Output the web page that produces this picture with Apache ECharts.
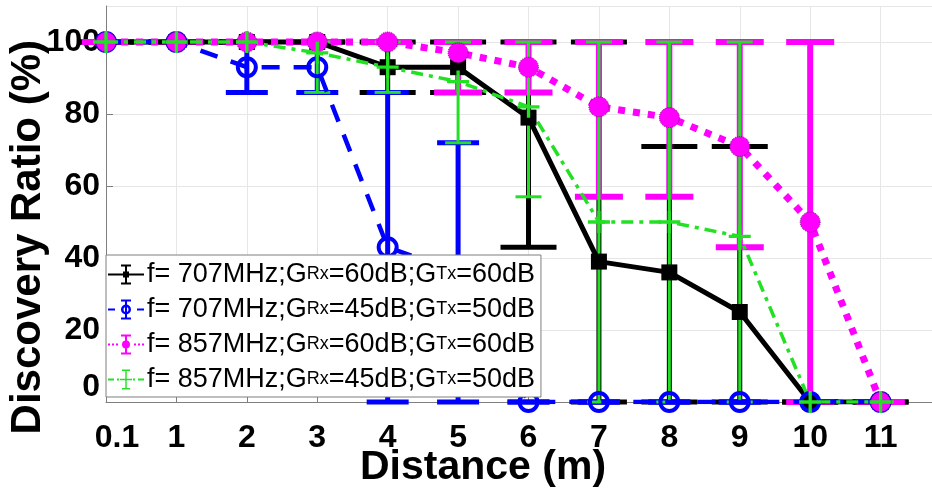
<!DOCTYPE html>
<html>
<head>
<meta charset="utf-8">
<script src="https://cdn.jsdelivr.net/npm/echarts@6/dist/echarts.min.js"></script>
<style>
  html, body { margin: 0; padding: 0; background: #fff; }
  #main { width: 932px; height: 497px; }
</style>
</head>
<body>
<div id="main"></div>
<script>
// distance labels (equally spaced)
var xLabels = ['0.1', '1', '2', '3', '4', '5', '6', '7', '8', '9', '10', '11'];

var seriesNames = [
    'f= 707MHz;GRx=60dB;GTx=60dB',
    'f= 707MHz;GRx=45dB;GTx=50dB',
    'f= 857MHz;GRx=60dB;GTx=60dB',
    'f= 857MHz;GRx=45dB;GTx=50dB'
];
var seriesColors = ['#000000', '#0000ff', '#ff00ff', '#22e022'];

// mean discovery ratio (%)
var black_mean = [100, 100, 100, 100, 93, 93, 79, 39, 36, 25, 0, 0];
var blue_mean  = [100, 100, 93, 93, 43, 36, 0, 0, 0, 0, 0, 0];
var mag_mean   = [100, 100, 100, 100, 100, 97, 93, 82, 79, 71, 50, 0];
var green_mean = [100, 100, 100, 97, 93, 89, 82, 50, 50, 46, 0, 0];

// error bar ends
var black_lo = [100, 100, 100, 100, 86, 86, 43, 0, 0, 0, 0, 0];
var black_hi = [100, 100, 100, 100, 100, 100, 100, 100, 71, 71, 0, 0];
var blue_lo  = [100, 100, 86, 86, 0, 0, 0, 0, 0, 0, 0, 0];
var blue_hi  = [100, 100, 100, 100, 86, 72, 0, 0, 0, 0, 0, 0];
var mag_lo   = [100, 100, 100, 100, 100, 86, 86, 57, 57, 43, 0, 0];
var mag_hi   = [100, 100, 100, 100, 100, 100, 100, 100, 100, 100, 100, 0];
var green_lo = [100, 100, 100, 86, 86, 72, 57, 0, 0, 0, 0, 0];
var green_hi = [100, 100, 100, 100, 100, 100, 100, 100, 100, 100, 0, 0];

var myChart = echarts.init(document.getElementById('main'));

function pts(arr) {
    return arr.map(function (v, i) { return [i, v]; });
}
function errData(lo, hi) {
    return lo.map(function (v, i) { return [i, v, hi[i]]; });
}
// error bar: vertical line + two caps
function errSeries(lo, hi, color, lw, capHalf) {
    return {
        type: 'custom',
        silent: true,
        data: errData(lo, hi),
        renderItem: function (params, api) {
            var x = api.value(0);
            var pLo = api.coord([x, api.value(1)]);
            var pHi = api.coord([x, api.value(2)]);
            var st = { stroke: color, lineWidth: lw };
            return {
                type: 'group',
                children: [
                    { type: 'line', shape: { x1: pLo[0], y1: pLo[1], x2: pHi[0], y2: pHi[1] }, style: st },
                    { type: 'line', shape: { x1: pLo[0] - capHalf, y1: pLo[1], x2: pLo[0] + capHalf, y2: pLo[1] }, style: st },
                    { type: 'line', shape: { x1: pHi[0] - capHalf, y1: pHi[1], x2: pHi[0] + capHalf, y2: pHi[1] }, style: st }
                ]
            };
        },
        z: 2
    };
}

var plusPath = 'path://M-1.5,-10 h3 v8.5 h8.5 v3 h-8.5 v8.5 h-3 v-8.5 h-8.5 v-3 h8.5 z';

// legend glyphs: line piece + small error bar + marker (36 x 20 box)
var ibeam = 'M17,0H19V20H17Z M13,0H23V2H13Z M13,18H23V20H13Z ';
var legendIcons = [
    'path://M0,9H36V11H0Z ' + ibeam + 'M15,7H21V13H15Z',
    'path://M0,9H7V11H0Z M29,9H36V11H29Z ' + ibeam +
        'M13,10 A5,5 0 1,1 23,10 A5,5 0 1,1 13,10 Z M15.5,10 A2.5,2.5 0 1,0 20.5,10 A2.5,2.5 0 1,0 15.5,10 Z',
    'path://M0,9H2V11H0Z M4,9H6V11H4Z M8,9H10V11H8Z M26,9H28V11H26Z M30,9H32V11H30Z M34,9H36V11H34Z ' + ibeam +
        'M14,10 A4,4 0 1,1 22,10 A4,4 0 1,1 14,10 Z',
    'path://M0,9H6V11H0Z M9,9H11V11H9Z M25,9H27V11H25Z M30,9H36V11H30Z ' +
        'M17.3,0H18.7V20H17.3Z M14,0H22V1.5H14Z M14,18.5H22V20H14Z M12,9.3H24V10.7H12Z'
];

var option = {
    animation: false,
    grid: { left: 106, top: 6, right: 0, bottom: 95 },
    xAxis: {
        type: 'value',
        min: 0,
        max: 11.73,
        interval: 1,
        axisLine: { show: true, onZero: false, lineStyle: { color: '#7f7f7f', width: 1 } },
        axisTick: { show: true, inside: true, length: 7, lineStyle: { color: '#7f7f7f' } },
        splitLine: { show: true, lineStyle: { color: '#e6e6e6', width: 1 } },
        axisLabel: {
            showMaxLabel: false,
            margin: 20,
            color: '#000',
            fontFamily: 'Liberation Sans, Arial, sans-serif',
            fontWeight: 'bold',
            fontSize: 32,
            formatter: function (v) {
                var lab = xLabels[Math.round(v)];
                if (lab === undefined) return '';
                return lab === '0.1' ? '{a|0.1}' : lab;
            },
            rich: { a: { fontFamily: 'Liberation Sans, Arial, sans-serif', fontWeight: 'bold', fontSize: 32, padding: [0, 0, 0, 22] } }
        }
    },
    yAxis: {
        type: 'value',
        min: 0,
        max: 110,
        interval: 20,
        axisLine: { show: true, lineStyle: { color: '#7f7f7f', width: 1 } },
        axisTick: { show: true, inside: true, length: 7, lineStyle: { color: '#7f7f7f' } },
        splitLine: { show: true, lineStyle: { color: '#e6e6e6', width: 1 } },
        axisLabel: {
            showMaxLabel: false,
            margin: 6,
            color: '#000',
            fontFamily: 'Liberation Sans, Arial, sans-serif',
            fontWeight: 'bold',
            fontSize: 32,
            formatter: function (v) {
                return v === 0 ? '{z|0}' : String(v);
            },
            rich: { z: { fontFamily: 'Liberation Sans, Arial, sans-serif', fontWeight: 'bold', fontSize: 32, padding: [0, 0, 30, 0] } }
        }
    },
    legend: {
        data: seriesNames.map(function (n, i) {
            return {
                name: n,
                icon: legendIcons[i],
                itemStyle: { color: seriesColors[i], borderWidth: 0 }
            };
        }),
        orient: 'vertical',
        left: 106,
        top: 255,
        itemWidth: 36,
        itemHeight: 20,
        itemGap: 6,
        padding: [5, 6, 3, 2],
        backgroundColor: '#fff',
        borderColor: '#7f7f7f',
        borderWidth: 1,
        borderRadius: 0,
        formatter: function (name) {
            return name.replace('Rx', '{s|Rx}').replace('Tx', '{s|Tx}');
        },
        textStyle: {
            color: '#000',
            fontFamily: 'Liberation Sans, Arial, sans-serif',
            fontSize: 27,
            lineHeight: 29,
            padding: [0, 0, 0, -2],
            rich: {
                s: { fontFamily: 'Liberation Sans, Arial, sans-serif', fontSize: 18, lineHeight: 29, color: '#000' }
            }
        }
    },
    graphic: [
        {
            type: 'text',
            left: 7,
            top: 40,
            rotation: Math.PI / 2,
            style: {
                text: 'Discovery Ratio (%)',
                fill: '#000',
                font: 'bold 42px "Liberation Sans", Arial, sans-serif'
            }
        },
        {
            type: 'text',
            left: 360,
            top: 447,
            style: {
                text: 'Distance (m)',
                fill: '#000',
                font: 'bold 41px "Liberation Sans", Arial, sans-serif'
            }
        }
    ],
    series: [
        errSeries(black_lo, black_hi, '#000000', 5, 28),
        {
            name: seriesNames[0],
            type: 'line',
            data: pts(black_mean),
            symbol: 'rect',
            symbolSize: 16,
            itemStyle: { color: '#000000' },
            lineStyle: { color: '#000000', width: 5, type: 'solid' },
            z: 2
        },
        errSeries(blue_lo, blue_hi, '#0000ff', 5, 21),
        {
            name: seriesNames[1],
            type: 'line',
            data: pts(blue_mean),
            symbol: 'circle',
            symbolSize: 18,
            itemStyle: { color: 'rgba(0,0,0,0)', borderColor: '#0000ff', borderWidth: 4 },
            lineStyle: { color: '#0000ff', width: 4.5, type: [18, 14] },
            z: 2
        },
        errSeries(mag_lo, mag_hi, '#ff00ff', 6, 24),
        {
            name: seriesNames[2],
            type: 'line',
            data: pts(mag_mean),
            symbol: 'circle',
            symbolSize: 20,
            itemStyle: { color: '#ff00ff', borderColor: '#800080', borderWidth: 1, borderType: 'dotted' },
            lineStyle: { color: '#ff00ff', width: 7, type: [7, 8] },
            z: 2
        },
        errSeries(green_lo, green_hi, '#22e022', 3, 13),
        {
            name: seriesNames[3],
            type: 'line',
            data: pts(green_mean),
            symbol: plusPath,
            symbolSize: 22,
            itemStyle: { color: '#22e022' },
            lineStyle: { color: '#22e022', width: 3.5, type: [12, 6, 4, 6] },
            z: 2
        }
    ]
};

myChart.setOption(option);
</script>
</body>
</html>
